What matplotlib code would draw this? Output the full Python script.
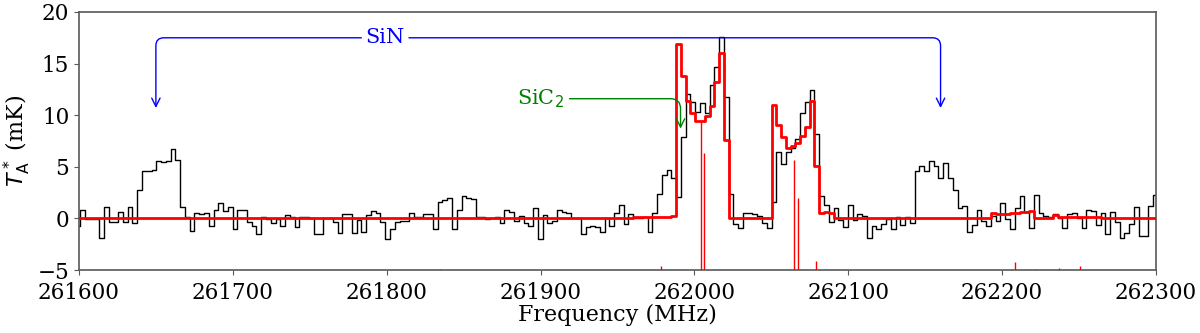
import numpy as np
import matplotlib
matplotlib.use("Agg")
import matplotlib.pyplot as plt

plt.rcParams['font.family'] = 'serif'

# channel grid (MHz)
f0 = 261599.1
dv = 3.1

# observed spectrum T_A* (mK), one value per channel
ta = [-0.7, 0.77, -0.1, -0.1, -0.05, -1.9, 1.1, -0.3, -0.3, 0.65,
      -0.3, 1.1, -0.4, 2.8, 4.6, 4.6, 4.7, 5.6, 5.45, 5.6,
      6.7, 5.7, 1.1, 0.15, -1.2, 0.55, 0.4, 0.55, -0.7, 0.8,
      1.5, 0.7, 1.1, -1.0, 0.77, 0.77, -0.35, -0.75, -1.55, 0.1,
      -0.1, -0.4, -0.05, -0.7, 0.3, 0.15, -0.85, 0.1, 0.15, 0.0,
      -1.5, -1.5, 0.0, 0.0, -0.35, -1.45, 0.4, 0.4, -1.45, -0.15,
      -1.3, 0.3, 0.7, 0.55, -0.35, -1.95, -1.05, -0.35, -0.2, -0.2,
      0.55, 0.15, 0.15, 0.4, 0.45, -1.0, 1.6, 1.8, 2.0, -1.0,
      0.8, 2.15, 1.95, 1.85, 0.15, 0.1, -0.1, 0.0, 0.15, -0.4,
      0.8, 0.6, -0.2, 0.2, -0.4, -0.75, 1.0, -2.0, 0.3, -0.4,
      -0.25, 0.8, 0.6, 0.55, 0.05, 0.05, -1.55, -0.8, -0.7, -0.85,
      -1.3, 0.05, -0.7, 0.55, 1.3, -0.5, 0.4, 0.0, 0.0, 0.15,
      -1.3, 0.5, 2.4, 4.25, 4.7, 3.9, 2.1, 7.9, 12.1, 11.3,
      10.3, 11.2, 10.2, 12.9, 14.7, 17.6, 11.8, 2.4, -0.5, -0.9,
      0.55, 0.5, 0.4, 0.25, -0.4, -0.9, 1.6, 6.45, 5.3, 6.45,
      6.8, 7.7, 10.2, 11.3, 12.4, 8.2, 2.2, 1.3, -0.3, 1.05,
      -0.15, -0.8, 1.3, -0.15, 0.45, 0.2, -1.85, -0.75, -1.05, -0.5,
      -0.1, -1.05, 0.15, -0.6, 0.15, -0.4, 4.6, 5.05, 4.6, 5.55,
      5.05, 3.95, 5.4, 3.95, 2.8, 1.0, 1.2, -1.3, -0.6, 0.85,
      -0.25, -0.75, 0.2, -0.25, 1.45, -0.1, -1.0, 1.0, 2.15, 0.65,
      -0.9, 2.3, 0.55, 0.2, 0.1, 0.4, 0.0, -0.9, 0.4, 0.55,
      0.05, -0.9, 0.85, 0.7, -0.65, 0.55, -1.55, 0.65, -0.35, -1.85,
      -1.4, -0.5, 1.1, -1.7, -1.7, 1.2, 2.3]

# model spectrum, nonzero channels only (index -> mK)
model_idx = list(range(117, 126)) + list(range(126, 137)) + list(range(146, 159)) \
    + list(range(192, 215))
model_val = [0.1, 0.1, 0.12, 0.12, 0.15, 0.15, 0.15, 0.18, 0.2,
             16.9, 13.8, 11.4, 10.2, 9.4, 9.4, 9.9, 10.9, 13.2, 16.0, 7.6,
             11.0, 9.1, 7.9, 6.8, 7.0, 7.3, 8.0, 8.9, 11.35, 5.1, 0.55, 0.6, 0.55,
             0.55, 0.4, 0.4, 0.45, 0.5, 0.55, 0.6, 0.65, 0.7, 0.05, 0.05, 0.05, 0.05,
             0.3, 0.15, 0.15, 0.15, 0.15, 0.15, 0.15, 0.15, 0.15, 0.15]

# line components (MHz) and the height of their sticks (mK)
line_freq = [261834.6, 261978.1, 262004.2, 262006.5, 262065.0, 262067.5,
             262078.9, 262208.3, 262222.3, 262236.9, 262250.6]
line_top = [-4.93, -4.6, 9.3, 6.3, 5.7, 1.95, -4.1, -4.2, -4.9, -4.8, -4.65]

freq = f0 + dv * np.arange(len(ta))
model = np.zeros(len(ta))
model[model_idx] = model_val

fig = plt.figure(figsize=(12, 3.33), dpi=100)
ax = fig.add_axes([0.0658, 0.189, 0.8975, 0.775])

ax.step(freq, ta, where='mid', color='k', lw=1.0, zorder=2)
ax.step(freq, model, where='mid', color='red', lw=2.0, zorder=3)
ax.vlines(line_freq, -5, line_top, color='red', lw=1.0, zorder=3)

ax.set_xlim(261600, 262300)
ax.set_ylim(-5, 20)
ax.set_xticks(np.arange(261600, 262301, 100))
ax.set_yticks([-5, 0, 5, 10, 15, 20])
ax.tick_params(labelsize=15.5, color='0.35')
ax.tick_params(axis='x', pad=5)
for s in ax.spines.values():
    s.set_color('0.35')
    s.set_linewidth(1.2)

ax.set_xlabel('Frequency (MHz)', fontsize=16, labelpad=0)
ax.set_ylabel(r'$T_{\rm A}^*$ (mK)', fontsize=16, labelpad=3)

# SiN bracket: two arrows from the same label (text drawn once)
sin_xy = (261799, 17.5)
for target, tcol in [((261650, 10.7), 'blue'), ((262160, 10.7), 'none')]:
    ax.annotate('SiN', xy=target, xytext=sin_xy,
                color=tcol, fontsize=15, ha='center', va='center',
                arrowprops=dict(arrowstyle='->', color='blue', lw=1.0,
                                connectionstyle='angle,angleA=0,angleB=90,rad=8',
                                shrinkA=1, shrinkB=0))

# SiC2 arrow
ax.annotate('SiC$_2$', xy=(261991, 8.7), xytext=(261900, 11.6),
            color='green', fontsize=15, ha='center', va='center',
            arrowprops=dict(arrowstyle='->', color='green', lw=1.0,
                            connectionstyle='angle,angleA=0,angleB=90,rad=10',
                            shrinkA=2, shrinkB=0))

fig.savefig('out.png', dpi=100)
